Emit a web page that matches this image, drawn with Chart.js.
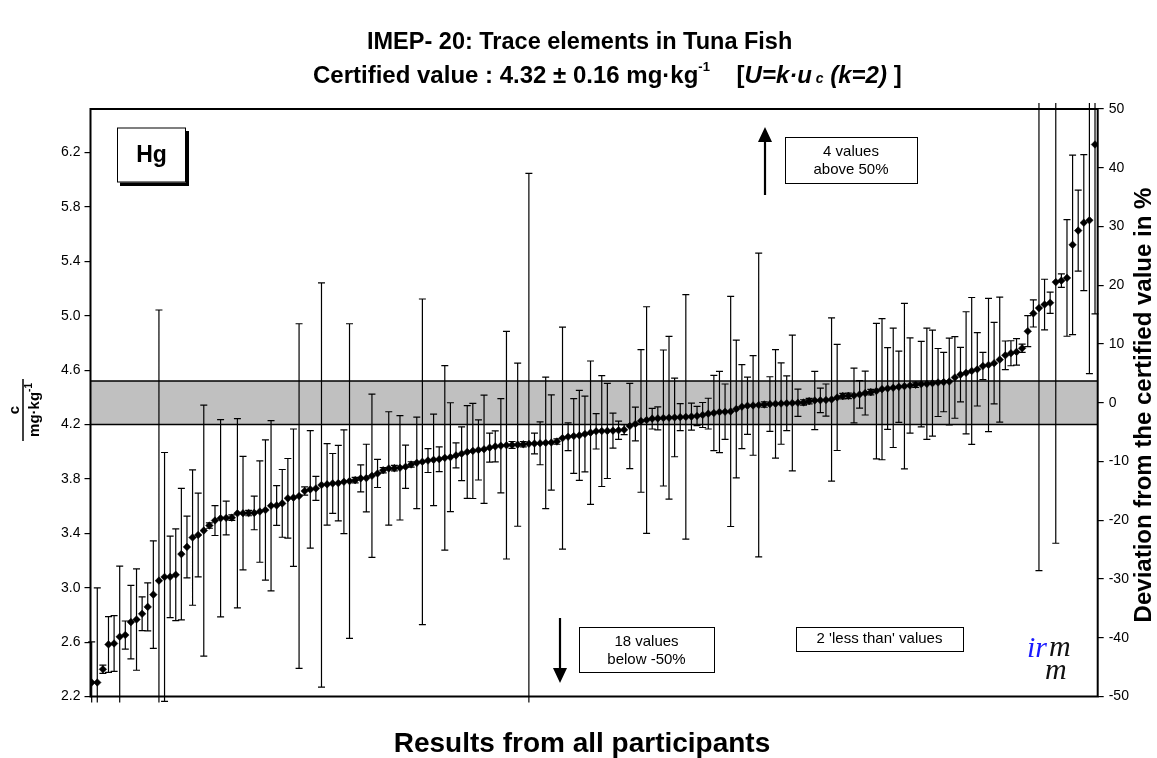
<!DOCTYPE html>
<html>
<head>
<meta charset="utf-8">
<script src="https://cdn.jsdelivr.net/npm/chart.js@4.4.1/dist/chart.umd.min.js"></script>
<style>
  body { margin: 0; background: #fff; }
  #wrap { position: relative; width: 1157px; height: 758px; font-family: "Liberation Sans", Arial, sans-serif; }
  #myChart { position: absolute; left: 0; top: 0; }
  .title { position: absolute; font-weight: bold; color: #000; white-space: nowrap; line-height: 1; }
  #t1 { top: 30px; left: 367px; font-size: 23.5px; }
  #t2 { top: 63px; left: 313px; font-size: 24px; }
  #t2 sup { font-size: 13px; position: relative; top: -3px; vertical-align: top; }
  #t2 sub { font-size: 14px; position: relative; top: 8px; vertical-align: top; }
</style>
</head>
<body>
<div id="wrap">
  <canvas id="myChart" width="1157" height="758"></canvas>
  <div class="title" id="t1">IMEP- 20: Trace elements in Tuna Fish</div>
  <div class="title" id="t2">Certified value : 4.32 ± 0.16 mg·kg<sup>-1</sup>&nbsp;&nbsp;&nbsp;&nbsp;[<i>U=k·u</i><sub><i> c</i></sub><i> (k=2)</i> ]</div>
</div>
<script>
// Hg mass fractions (mg/kg), sorted, one per participant
const hgValues = [
  2.263, 2.263, 2.36, 2.543, 2.55, 2.599, 2.612, 2.707, 2.726, 2.768,
  2.819, 2.909, 3.012, 3.039, 3.04, 3.055, 3.207, 3.26, 3.329, 3.348,
  3.38, 3.417, 3.454, 3.471, 3.473, 3.475, 3.507, 3.508, 3.509, 3.51,
  3.52, 3.531, 3.563, 3.565, 3.58, 3.617, 3.622, 3.634, 3.671, 3.683,
  3.69, 3.715, 3.72, 3.727, 3.729, 3.739, 3.744, 3.751, 3.764, 3.766,
  3.783, 3.8, 3.824, 3.837, 3.839, 3.842, 3.849, 3.866, 3.878, 3.886,
  3.895, 3.9, 3.905, 3.915, 3.92, 3.933, 3.945, 3.958, 3.966, 3.973,
  3.978, 3.99, 3.999, 4.004, 4.008, 4.01, 4.012, 4.015, 4.018, 4.02,
  4.022, 4.025, 4.028, 4.035, 4.06, 4.07, 4.075, 4.08, 4.09, 4.1,
  4.11, 4.112, 4.113, 4.115, 4.118, 4.122, 4.149, 4.164, 4.186, 4.193,
  4.203, 4.205, 4.208, 4.21, 4.212, 4.214, 4.216, 4.218, 4.223, 4.23,
  4.24, 4.245, 4.252, 4.254, 4.256, 4.274, 4.291, 4.298, 4.3, 4.303,
  4.307, 4.31, 4.312, 4.314, 4.316, 4.318, 4.32, 4.322, 4.332, 4.337,
  4.338, 4.34, 4.344, 4.359, 4.369, 4.371, 4.373, 4.381, 4.391, 4.398,
  4.406, 4.42, 4.425, 4.43, 4.437, 4.442, 4.447, 4.452, 4.457, 4.459,
  4.464, 4.469, 4.472, 4.476, 4.506, 4.527, 4.54, 4.554, 4.566, 4.59,
  4.598, 4.611, 4.637, 4.669, 4.684, 4.694, 4.721, 4.846, 4.977, 5.016,
  5.042, 5.055, 5.207, 5.218, 5.238, 5.481, 5.586, 5.644, 5.662, 6.219
];

// expanded uncertainty reported by each participant (mg/kg)
const hgUncertainty = [
  0.298, 0.696, 0.03, 0.205, 0.205, 0.52, 0.103, 0.27, 0.373, 0.124,
  0.176, 0.395, 1.99, 0.915, 0.3, 0.337, 0.483, 0.227, 0.498, 0.308,
  0.923, 0.02, 0.11, 0.725, 0.124, 0.02, 0.696, 0.417, 0.02, 0.124,
  0.373, 0.516, 0.626, 0.146, 0.249, 0.293, 0.505, 1.267, 0.03, 0.432,
  0.088, 1.486, 0.3, 0.22, 0.278, 0.381, 1.157, 0.02, 0.099, 0.249,
  0.6, 0.103, 0.02, 0.417, 0.02, 0.384, 0.159, 0.02, 0.337, 1.197,
  0.088, 0.337, 0.091, 0.678, 0.4, 0.092, 0.198, 0.341, 0.35, 0.221,
  0.398, 0.107, 0.114, 0.347, 0.837, 0.025, 0.6, 0.02, 1.988, 0.076,
  0.158, 0.483, 0.35, 0.02, 0.816, 0.102, 0.275, 0.331, 0.279, 0.527,
  0.13, 0.408, 0.35, 0.129, 0.067, 0.037, 0.314, 0.124, 0.524, 0.833,
  0.076, 0.085, 0.5, 0.598, 0.289, 0.099, 0.899, 0.099, 0.071, 0.092,
  0.113, 0.277, 0.299, 0.204, 0.846, 0.507, 0.309, 0.211, 0.366, 1.117,
  0.02, 0.201, 0.399, 0.299, 0.201, 0.499, 0.1, 0.02, 0.02, 0.214,
  0.09, 0.118, 0.6, 0.39, 0.02, 0.02, 0.201, 0.101, 0.161, 0.02,
  0.498, 0.519, 0.301, 0.439, 0.262, 0.608, 0.35, 0.02, 0.314, 0.409,
  0.39, 0.25, 0.218, 0.319, 0.3, 0.2, 0.449, 0.54, 0.27, 0.1,
  0.49, 0.3, 0.46, 0.105, 0.092, 0.098, 0.03, 0.114, 0.1, 1.93,
  0.186, 0.078, 1.92, 0.05, 0.429, 0.66, 0.298, 0.5, 1.128, 1.245
];

const ranks = hgValues.map((v, i) => i + 1);

const certifiedValue = 4.32;
const expandedU = 0.16;

const leftTickValues = [2.16, 2.56, 2.96, 3.36, 3.76, 4.16, 4.56, 4.96, 5.36, 5.76, 6.16];
const leftTickLabels = ["2.2", "2.6", "3.0", "3.4", "3.8", "4.2", "4.6", "5.0", "5.4", "5.8", "6.2"];
const rightTickValues = [-50, -40, -30, -20, -10, 0, 10, 20, 30, 40, 50];

const FONT = '"Liberation Sans", Arial, sans-serif';

// grey band, error bars
const bandAndBars = {
  id: "bandAndBars",
  beforeDatasetsDraw(chart) {
    const { ctx, chartArea: a, scales } = chart;
    const x = scales.x, y = scales.y;
    const yHi = y.getPixelForValue(certifiedValue + expandedU);
    const yLo = y.getPixelForValue(certifiedValue - expandedU);
    ctx.save();
    ctx.fillStyle = "#C0C0C0";
    ctx.fillRect(a.left, yHi, a.width, yLo - yHi);
    ctx.strokeStyle = "#000";
    ctx.lineWidth = 1.5;
    ctx.beginPath();
    ctx.moveTo(a.left, yHi); ctx.lineTo(a.right, yHi);
    ctx.moveTo(a.left, yLo); ctx.lineTo(a.right, yLo);
    ctx.stroke();

    ctx.beginPath();
    ctx.rect(a.left - 6, a.top - 6, a.width + 12, a.height + 12);
    ctx.clip();
    ctx.strokeStyle = "#000";
    ctx.lineWidth = 1.2;
    ctx.beginPath();
    hgValues.forEach((v, i) => {
      const px = x.getPixelForValue(ranks[i]);
      const top = y.getPixelForValue(v + hgUncertainty[i]);
      const bot = y.getPixelForValue(v - hgUncertainty[i]);
      ctx.moveTo(px, top); ctx.lineTo(px, bot);
      ctx.moveTo(px - 3.5, top); ctx.lineTo(px + 3.5, top);
      ctx.moveTo(px - 3.5, bot); ctx.lineTo(px + 3.5, bot);
    });
    ctx.stroke();
    ctx.restore();
  },
};

function arrow(ctx, x, yFrom, yTo) {
  const dir = yTo > yFrom ? 1 : -1;
  ctx.strokeStyle = "#000";
  ctx.fillStyle = "#000";
  ctx.lineWidth = 2.2;
  ctx.beginPath();
  ctx.moveTo(x, yFrom);
  ctx.lineTo(x, yTo - dir * 12);
  ctx.stroke();
  ctx.beginPath();
  ctx.moveTo(x - 7, yTo - dir * 15);
  ctx.lineTo(x + 7, yTo - dir * 15);
  ctx.lineTo(x, yTo);
  ctx.closePath();
  ctx.fill();
}

function textBox(ctx, x, y, w, h, lines, lineY) {
  ctx.fillStyle = "#fff";
  ctx.fillRect(x, y, w, h);
  ctx.strokeStyle = "#000";
  ctx.lineWidth = 1;
  ctx.strokeRect(x + 0.5, y + 0.5, w, h);
  ctx.fillStyle = "#000";
  ctx.font = "15px " + FONT;
  ctx.textAlign = "center";
  ctx.textBaseline = "alphabetic";
  lines.forEach((t, i) => ctx.fillText(t, x + w / 2, y + lineY[i]));
}

const decorations = {
  id: "decorations",
  afterDraw(chart) {
    const { ctx, chartArea: a } = chart;
    ctx.save();
    // plot frame
    ctx.strokeStyle = "#000";
    ctx.lineWidth = 2;
    ctx.strokeRect(a.left, a.top, a.width, a.height);

    // Hg label
    ctx.fillStyle = "#000";
    ctx.fillRect(120, 131, 69, 55);
    ctx.fillStyle = "#fff";
    ctx.fillRect(117, 127.5, 69, 55);
    ctx.lineWidth = 1;
    ctx.strokeRect(117.5, 128, 68, 54);
    ctx.fillStyle = "#000";
    ctx.font = "bold 23px " + FONT;
    ctx.textAlign = "center";
    ctx.textBaseline = "middle";
    ctx.fillText("Hg", 151.5, 156);

    // out-of-range notes
    arrow(ctx, 765, 195, 127);
    textBox(ctx, 785, 137, 132, 46, ["4 values", "above 50%"], [19, 37]);
    arrow(ctx, 560, 618, 683);
    textBox(ctx, 579, 627, 135, 45, ["18 values", "below -50%"], [19, 37]);
    textBox(ctx, 796, 627, 167, 24, ["2 'less than' values"], [16]);

    // logo
    ctx.textAlign = "left";
    ctx.textBaseline = "alphabetic";
    ctx.font = "italic 30px \"Liberation Serif\", serif";
    ctx.fillStyle = "#1a1aff";
    ctx.fillText("ir", 1027, 657);
    ctx.fillStyle = "#111";
    ctx.fillText("m", 1049, 656);
    ctx.fillText("m", 1045, 679);

    // left axis title: c / mg·kg-1
    ctx.translate(23, 410);
    ctx.rotate(-Math.PI / 2);
    ctx.fillStyle = "#000";
    ctx.textAlign = "center";
    ctx.textBaseline = "alphabetic";
    ctx.font = "bold 15px " + FONT;
    ctx.fillText("c", 0, -4);
    ctx.lineWidth = 1.5;
    ctx.beginPath();
    ctx.moveTo(-31, 0); ctx.lineTo(31, 0);
    ctx.stroke();
    ctx.textAlign = "left";
    const main = "mg·kg";
    const wMain = ctx.measureText(main).width;
    ctx.font = "bold 10px " + FONT;
    const wSup = ctx.measureText("-1").width;
    const start = -(wMain + wSup) / 2;
    ctx.font = "bold 15px " + FONT;
    ctx.fillText(main, start, 16);
    ctx.font = "bold 10px " + FONT;
    ctx.fillText("-1", start + wMain, 9);
    ctx.restore();

    // right axis title
    ctx.save();
    ctx.translate(1144, 405);
    ctx.rotate(-Math.PI / 2);
    ctx.fillStyle = "#000";
    ctx.font = "bold 24px " + FONT;
    ctx.textAlign = "center";
    ctx.textBaseline = "middle";
    ctx.fillText("Deviation from the certified value in %", 0, 0);
    ctx.restore();

    // x axis title
    ctx.save();
    ctx.fillStyle = "#000";
    ctx.font = "bold 28px " + FONT;
    ctx.textAlign = "center";
    ctx.textBaseline = "middle";
    ctx.fillText("Results from all participants", 582, 744);
    ctx.restore();
  },
};

const ctx = document.getElementById("myChart");

new Chart(ctx, {
  type: "scatter",
  data: {
    datasets: [
      {
        data: ranks.map((r, i) => ({ x: r, y: hgValues[i] })),
        pointStyle: "rectRot",
        pointRadius: 3.8,
        pointHoverRadius: 3.8,
        backgroundColor: "#000",
        borderColor: "#000",
        borderWidth: 0.5,
      },
    ],
  },
  options: {
    responsive: false,
    animation: false,
    devicePixelRatio: 1,
    layout: { padding: { top: 109, left: 0, right: 0, bottom: 0 } },
    plugins: {
      legend: { display: false },
      tooltip: { enabled: false },
    },
    scales: {
      x: {
        type: "linear",
        min: 0.79,
        max: 180.48,
        grid: { display: false },
        border: { display: false },
        ticks: { display: false },
        afterFit(scale) { scale.height = 61.5; },
      },
      y: {
        position: "left",
        min: 2.16,
        max: 6.48,
        afterBuildTicks(scale) {
          scale.ticks = leftTickValues.map((v) => ({ value: v }));
        },
        ticks: {
          autoSkip: false,
          color: "#000",
          padding: 4,
          font: { family: FONT, size: 14 },
          callback: (v, i) => leftTickLabels[i],
        },
        grid: { drawOnChartArea: false, tickLength: 6, color: "#000", lineWidth: 1.2 },
        border: { display: false },
        afterFit(scale) { scale.width = 90.5; },
      },
      y2: {
        position: "right",
        min: -50,
        max: 50,
        afterBuildTicks(scale) {
          scale.ticks = rightTickValues.map((v) => ({ value: v }));
        },
        ticks: {
          autoSkip: false,
          color: "#000",
          padding: 5,
          font: { family: FONT, size: 14 },
        },
        grid: { drawOnChartArea: false, tickLength: 6, color: "#000", lineWidth: 1.2 },
        border: { display: false },
        afterFit(scale) { scale.width = 59.3; },
      },
    },
  },
  plugins: [bandAndBars, decorations],
});
</script>
</body>
</html>
